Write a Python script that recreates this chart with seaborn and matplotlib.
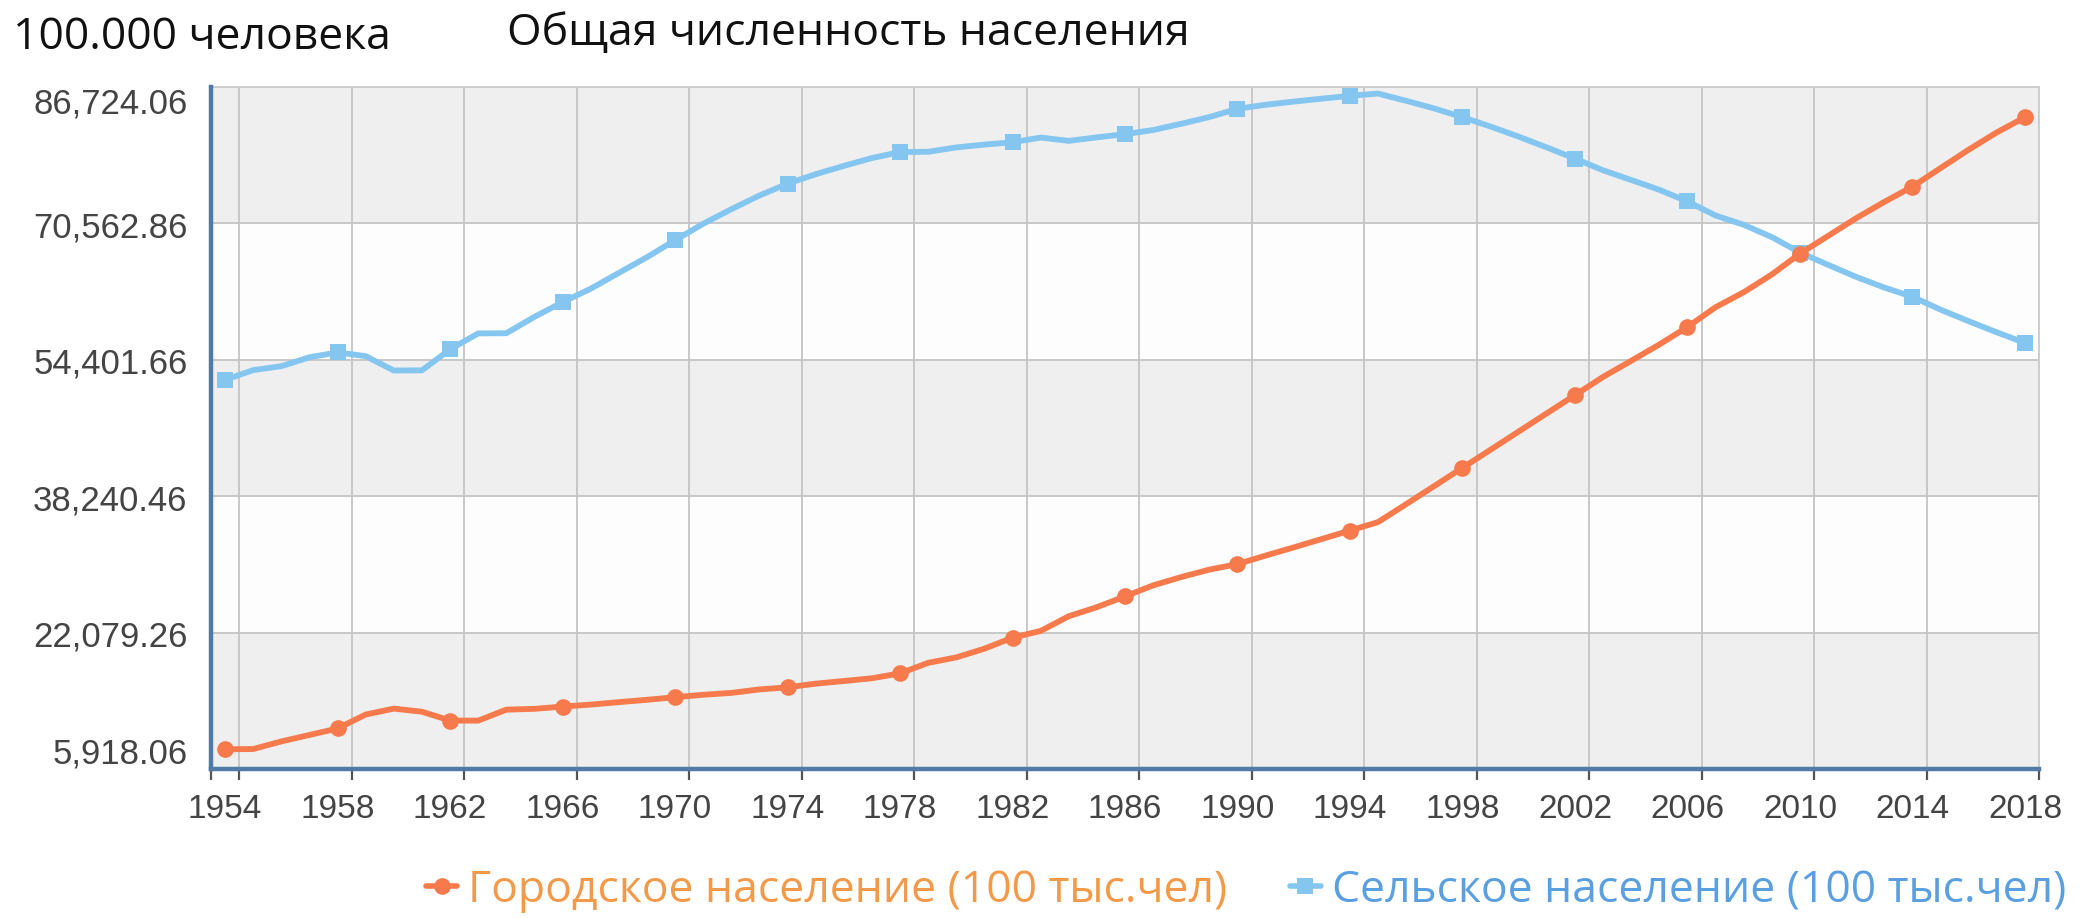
import numpy as np
import pandas as pd
import matplotlib
matplotlib.use("Agg")
import matplotlib.pyplot as plt
from matplotlib.lines import Line2D
import seaborn as sns

# ─────────────────────────────────────────────
# DATA (100 тыс. чел)
# ─────────────────────────────────────────────
years = list(range(1954, 2019))

urban = [8249, 8285, 9185, 9949, 10721, 12371, 13073, 12707, 11659, 11646,
         12950, 13045, 13313, 13548, 13838, 14117, 14424, 14711, 14935, 15345,
         15595, 16030, 16341, 16669, 17245, 18495, 19140, 20171, 21480, 22274,
         24017, 25094, 26366, 27674, 28661, 29540, 30195, 31203, 32175, 33173,
         34169, 35174, 37304, 39449, 41608, 43748, 45906, 48064, 50212, 52376,
         54283, 56212, 58288, 60633, 62403, 64512, 66978, 69079, 71182, 73111,
         74916, 77116, 79298, 81347, 83137]

rural = [52017, 53180, 53643, 54704, 55273, 54836, 53134, 53152, 55636, 57526,
         57549, 59493, 61229, 62820, 64696, 66554, 68568, 70518, 72242, 73866,
         75264, 76390, 77376, 78305, 79014, 79047, 79565, 79901, 80174, 80734,
         80340, 80757, 81141, 81626, 82365, 83164, 84138, 84620, 84996, 85344,
         85681, 85947, 85085, 84177, 83153, 82038, 80837, 79563, 78241, 76851,
         75705, 74544, 73160, 71496, 70399, 68938, 67113, 65656, 64222, 62961,
         61866, 60346, 58973, 57661, 56401]

tick_years = list(range(1954, 2019, 4))
y_ticks = [5918.06, 22079.26, 38240.46, 54401.66, 70562.86, 86724.06]

urban_label = "Городское население (100 тыс.чел)"
rural_label = "Сельское население (100 тыс.чел)"
title = "Общая численность населения"
unit_label = "100.000 человека"

URBAN_COLOR = "#f67a4c"
RURAL_COLOR = "#84c6ef"

df = pd.DataFrame({"year": years, "urban": urban, "rural": rural})

# ─────────────────────────────────────────────
# FIGURE
# ─────────────────────────────────────────────
sns.set_theme(style="white")
plt.rcParams["font.family"] = ["Liberation Sans", "DejaVu Sans"]

fig, ax = plt.subplots(figsize=(20.92, 9.2), dpi=100)
fig.subplots_adjust(left=211 / 2092, right=2039 / 2092,
                    bottom=1 - 770 / 920, top=1 - 88 / 920)

# alternating bands
for i in range(len(y_ticks) - 1):
    color = "#efefef" if (len(y_ticks) - 2 - i) % 2 == 0 else "#fdfdfd"
    ax.axhspan(y_ticks[i], y_ticks[i + 1], color=color, zorder=0, lw=0)

sns.lineplot(data=df, x="year", y="rural", color=RURAL_COLOR, lw=4.2,
             marker="s", markersize=12, markevery=4, markeredgewidth=0,
             solid_joinstyle="round", solid_capstyle="round", ax=ax, zorder=3)
sns.lineplot(data=df, x="year", y="urban", color=URBAN_COLOR, lw=4.2,
             marker="o", markersize=12, markevery=4, markeredgewidth=0,
             solid_joinstyle="round", solid_capstyle="round", ax=ax, zorder=4)

ax.set_xlim(years[0] - 0.5, years[-1] + 0.5)
ax.set_ylim(y_ticks[0], y_ticks[-1])

# labels sit on the data years, grid lines between categories
ax.set_xticks(tick_years)
ax.set_xticklabels([str(y) for y in tick_years])
ax.set_xticks([years[0] - 0.5] + [y + 0.5 for y in tick_years], minor=True)
ax.tick_params(axis="x", which="major", length=0, pad=17, labelsize=24,
               labelcolor="#444444")
ax.tick_params(axis="x", which="minor", length=8, width=1.6, color="#555555",
               direction="out", bottom=True)
ax.grid(axis="x", which="minor", color="#c4c4c4", lw=1.3, zorder=1)

ax.set_yticks(y_ticks)
ax.set_yticklabels([f"{v:,.2f}" for v in y_ticks])
ax.tick_params(axis="y", length=0, pad=17, labelsize=25, labelcolor="#444444")
ax.grid(axis="y", which="major", color="#c4c4c4", lw=1.3, zorder=1)
ylabels = ax.get_yticklabels()
ylabels[0].set_va("bottom")
ylabels[-1].set_va("top")

ax.set_xlabel("")
ax.set_ylabel("")

for side in ["top", "right"]:
    ax.spines[side].set_color("#cccccc")
    ax.spines[side].set_linewidth(1.3)
for side in ["left", "bottom"]:
    ax.spines[side].set_color("#4f7ba6")
    ax.spines[side].set_linewidth(3.2)
ax.spines["left"].set_zorder(5)
ax.spines["bottom"].set_zorder(5)

# titles
fig.text(13 / 2092, 1 - 38 / 920, unit_label, fontsize=32, color="#111111",
         va="center", ha="left", family=["Open Sans", "DejaVu Sans"])
fig.text(507 / 2092, 1 - 34 / 920, title, fontsize=32, color="#111111",
         va="center", ha="left", family=["Open Sans", "DejaVu Sans"])

# legend
handles = [
    Line2D([0], [0], color=URBAN_COLOR, lw=4, marker="o", markersize=12,
           markeredgewidth=0),
    Line2D([0], [0], color=RURAL_COLOR, lw=4, marker="s", markersize=12,
           markeredgewidth=0),
]
fig.legend(handles, [urban_label, rural_label], ncol=2, loc="center",
           bbox_to_anchor=(1246 / 2092, 1 - 891 / 920), frameon=False,
           handlelength=0.7, handletextpad=0.25, columnspacing=1.4,
           labelcolor=["#f39a4a", "#5a9fe0"],
           prop={"family": ["Open Sans", "DejaVu Sans"], "size": 32})

plt.savefig("out.png", dpi=100)
plt.close()
